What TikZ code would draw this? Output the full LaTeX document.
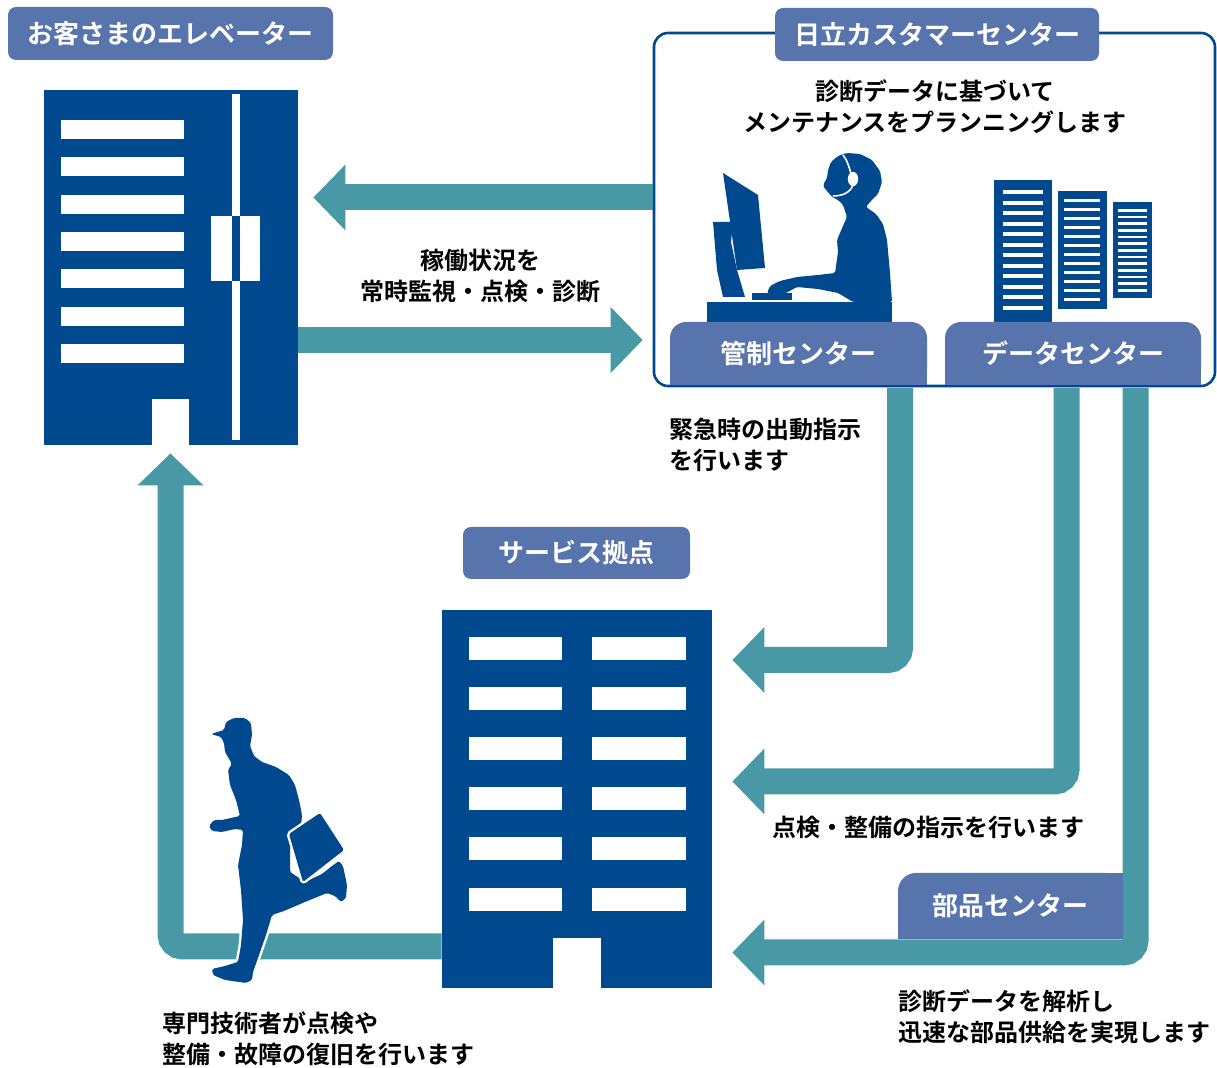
\documentclass[tikz,border=0pt]{standalone}
\usepackage{fontspec}
\setmainfont{Noto Sans CJK JP}[BoldFont={Noto Sans CJK JP Bold}]
\usetikzlibrary{arrows.meta}
\definecolor{navy}{RGB}{0,73,143}
\definecolor{tagblue}{RGB}{88,116,173}
\definecolor{flowteal}{RGB}{72,153,165}
\begin{document}
\begin{tikzpicture}[x=0.5pt,y=-0.5pt,
  tag/.style={fill=tagblue, rounded corners=4pt, text=white, inner sep=0pt,
    font=\bfseries\fontsize{13}{15}\selectfont},
  subtag/.style={tag, rounded corners=8pt},
  note/.style={text=black, inner sep=0pt, font=\bfseries\fontsize{12}{15.5}\selectfont},
  flow/.style={draw=flowteal, line width=13pt, rounded corners=6pt,
    -{Triangle[length=16pt,width=32pt]}},
  building/.style={fill=navy, draw=none, inner sep=0pt},
  silhouette/.style={fill=navy, rounded corners=0.8pt},
  haloed/.style={silhouette, preaction={draw=white, line width=2.4pt, line join=round}}]

\useasboundingbox (0,0) rectangle (1217,1068);

% ---------- buildings ----------
\node[building, minimum width=127pt, minimum height=177.5pt] (elev) at (171,267.5) {};
\foreach \y in {120,157.3,194.6,232,269.3,306.6,344}
  \fill[white] (61,\y) rectangle (184,\y+19);
% elevator shaft and car
\fill[white] (232,94) rectangle (240,440);
\fill[white] (211,216) rectangle (260,281);
\fill[navy] (232,216) rectangle (240,281);
\fill[white] (152,399) rectangle (189,446);

\node[building, minimum width=135pt, minimum height=189pt] (base) at (577,799) {};
\foreach \y in {637,687,737,787,837,888} {
  \fill[white] (469,\y) rectangle (562,\y+23);
  \fill[white] (592,\y) rectangle (686,\y+23);
}
\fill[white] (553,938) rectangle (601,989);

% ---------- customer center frame ----------
\node[draw=navy, line width=1.3pt, rounded corners=7pt, fill=white,
  minimum width=280.5pt, minimum height=176.5pt] (hq) at (934.5,209.5) {};

% operator desk, monitor and keyboard
\fill[navy] (707,302) rectangle (892,330);
\fill[navy] (752,293) rectangle (792,300);
\fill[navy] (713,222) -- (733,222) -- (731,242) -- (737,270) -- (745,297)
  -- (723,297) -- (717,270) -- cycle;
\fill[navy] (723,173) -- (758,195) -- (765,268) -- (737,270) -- cycle;
% operator
\fill[silhouette] (847,153) -- (860,154) -- (872,160) -- (880,171) -- (882,182)
  -- (878,194) -- (870,202) -- (866,207) -- (876,214) -- (883,224) -- (887,240)
  -- (890,273) -- (892,302) -- (853,302) -- (838,293) -- (818,289) -- (797,287)
  -- (786,293) -- (773,296) -- (767,293) -- (770,286) -- (780,281) -- (797,277)
  -- (818,275) -- (835,273) -- (838,252) -- (837,240) -- (843,226) -- (847,217)
  -- (843,205) -- (838,200) -- (832,197) -- (828,192) -- (825,189) -- (823,185)
  -- (827,178) -- (828,170) -- (831,162) -- (838,156) -- cycle;
% headset
\draw[white, line width=0.8pt] (843,155) .. controls (847,160) and (849,166) .. (851,174);
\fill[white] (853,179) ellipse [x radius=2.6pt, y radius=3.6pt];
\draw[white, line width=0.8pt] (853,185) .. controls (850,193) and (842,196) .. (833,196);

% server racks
\fill[navy] (994,180) rectangle (1052,330);
\foreach \i in {0,...,11}
  \fill[white] (1003,190+\i*10.55) rectangle (1043,194+\i*10.55);
\fill[navy] (1058,191) rectangle (1107,309);
\foreach \i in {0,...,11}
  \fill[white] (1064,199+\i*9) rectangle (1100,202.4+\i*9);
\fill[navy] (1113,202) rectangle (1152,298);
\foreach \i in {0,...,12}
  \fill[white] (1118,209+\i*6.67) rectangle (1147,211.8+\i*6.67);

% sub-center tags (flat bottom edge)
\fill[tagblue] (670,354) rectangle (927,385);
\node[subtag, minimum width=128.5pt, minimum height=31.5pt] (ctl) at (798.5,353.5) {管制センター};
\fill[tagblue] (945,354) rectangle (1201,385);
\node[subtag, minimum width=128pt, minimum height=31.5pt] (data) at (1073,353.5) {データセンター};

\node[tag, minimum width=162pt, minimum height=26.5pt] (hqtag) at (937,34.5) {日立カスタマーセンター};
\node[tag, minimum width=162.5pt, minimum height=26.5pt] (elevtag) at (170.5,33.5) {お客さまのエレベーター};
\node[tag, minimum width=113.5pt, minimum height=26pt] (basetag) at (576.5,553) {サービス拠点};

% ---------- flows ----------
\draw[flow] (hq.west |- 0,197.5) -- ([xshift=7.5pt]elev.east |- 0,197.5);
\draw[flow] (elev.east |- 0,340) -- ([xshift=-5pt]hq.west |- 0,340);
\draw[flow] ([yshift=-1.2pt]ctl.south -| 900,0) -- (900,660)
  -- ([xshift=10pt]base.east |- 0,660);
\draw[flow] ([yshift=-1.2pt]data.south -| 1066.5,0) -- (1066.5,781.5)
  -- ([xshift=10pt]base.east |- 0,781.5);
\draw[flow] ([yshift=-1.2pt]data.south -| 1135.5,0) -- (1135.5,952.5)
  -- ([xshift=10pt]base.east |- 0,952.5);
\draw[flow] (base.west |- 0,946.5) -- (170.5,946.5)
  -- ([yshift=-4pt]elev.south -| 170.5,0);

% parts center tag (only top-left corner rounded)
\fill[tagblue] (1010,873) rectangle (1123,939.5);
\fill[tagblue] (898,906) rectangle (1123,939.5);
\node[subtag, rounded corners=9pt, minimum width=112.5pt, minimum height=33pt] (parts) at (1010.5,906) {部品センター};

% ---------- field engineer ----------
\fill[haloed] (211,734) -- (224,730) -- (226,722) -- (234,718) -- (245,718)
  -- (251,723) -- (252,735) -- (250,746) -- (254,756) -- (262,762) -- (276,767)
  -- (289,775) -- (295,785) -- (299,800) -- (302,815) -- (301,826) -- (293,833)
  -- (290,850) -- (290,872) -- (305,882) -- (322,874) -- (332,866) -- (339,861)
  -- (343,866) -- (347,885) -- (346,898) -- (341,902) -- (335,896) -- (327,893)
  -- (305,902) -- (284,911) -- (272,915) -- (266,935) -- (258,958) -- (253,972)
  -- (252,980) -- (246,983) -- (225,980) -- (213,975) -- (212,969) -- (225,966)
  -- (238,962) -- (241,945) -- (243,920) -- (241,890) -- (238,865) -- (242,845)
  -- (243,830) -- (235,829) -- (222,832) -- (212,831) -- (209,826) -- (214,820)
  -- (222,820) -- (240,816) -- (236,800) -- (230,785) -- (228,770) -- (232,764)
  -- (228,757) -- (225,752) -- (224,743) -- (221,737) -- cycle;
\fill[haloed] (289,834) -- (320,813) -- (344,850) -- (303,882) -- cycle;

% ---------- notes ----------
\node[note, align=center] (n1) at (480,276) {稼働状況を\\常時監視・点検・診断};
\node[note, align=center] (n2) at (935,107) {診断データに基づいて\\メンテナンスをプランニングします};
\node[note, align=left, anchor=west] (n3) at (669,445) {緊急時の出動指示\\を行います};
\node[note] (n4) at (928,827) {点検・整備の指示を行います};
\node[note, align=left, anchor=west] (n5) at (898,1017) {診断データを解析し\\迅速な部品供給を実現します};
\node[note, align=left, anchor=west] (n6) at (162,1039) {専門技術者が点検や\\整備・故障の復旧を行います};
\end{tikzpicture}
\end{document}
